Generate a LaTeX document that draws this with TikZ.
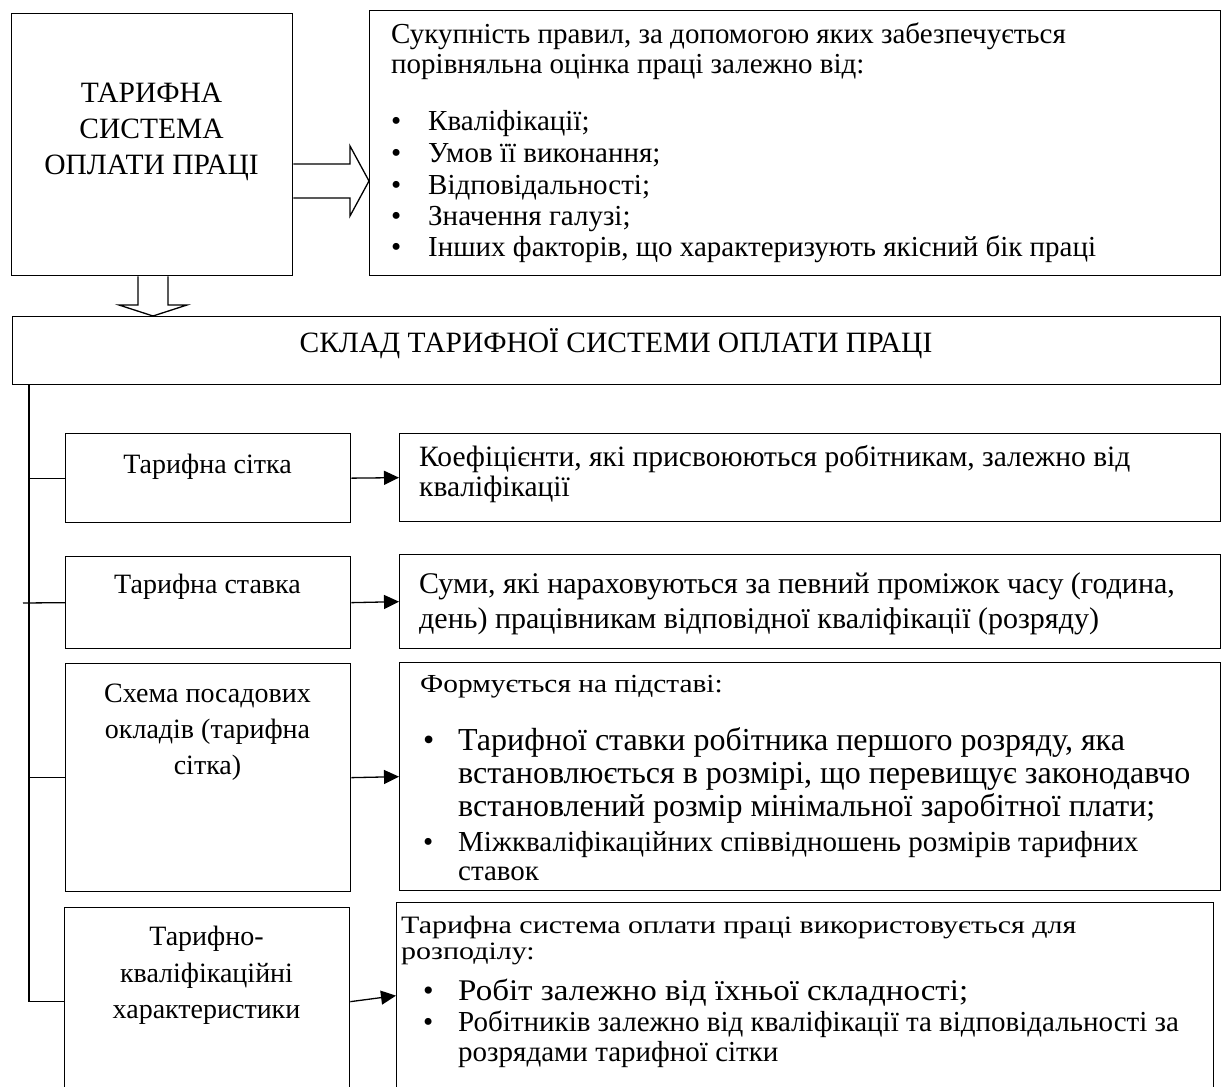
\documentclass[tikz,border=0pt]{standalone}
\usepackage{fontspec}
\usepackage{graphicx}
\setmainfont{Liberation Serif}
\usetikzlibrary{arrows.meta}
\newcommand\fsz[1]{\fontsize{#1}{#1}\selectfont}
\newcommand\xs[2]{\scalebox{#1}[1]{#2}}
\begin{document}
\begin{tikzpicture}[x=1pt,y=-1pt,
  box/.style={draw,line width=1.3pt,inner sep=0,anchor=north west},
  txt/.style={inner sep=0,anchor=base west},
  ctxt/.style={inner sep=0,anchor=base},
  hollow/.style={draw,line width=1.3pt,line join=miter},
  conn/.style={line width=1.3pt},
  arr/.style={line width=1.3pt,-{Triangle[length=15pt,width=14pt]}}]
\useasboundingbox (0,0) rectangle (1222,1086);
\clip (0,0) rectangle (1222,1086);
% boxes
\node[box,minimum width=281pt,minimum height=262pt] (b1) at (11,13) {};
\node[box,minimum width=851pt,minimum height=265pt] (b2) at (369,10) {};
\node[box,minimum width=1208pt,minimum height=68pt] (b3) at (12,316) {};
\node[box,minimum width=285pt,minimum height=89pt] (L1) at (65,433) {};
\node[box,minimum width=285pt,minimum height=92pt] (L2) at (65,556) {};
\node[box,minimum width=285pt,minimum height=228pt] (L3) at (65,663) {};
\node[box,minimum width=285pt,minimum height=188pt] (L4) at (64,907) {};
\node[box,minimum width=821pt,minimum height=88pt] (R1) at (399,433) {};
\node[box,minimum width=821pt,minimum height=94pt] (R2) at (399,554) {};
\node[box,minimum width=821pt,minimum height=228pt] (R3) at (399,662) {};
\node[box,minimum width=817pt,minimum height=193pt] (R4) at (396,902) {};
% hollow arrows
\draw[hollow] (b1.east |- 0,164) -- (350,164) -- (350,146) -- (b2.west |- 0,181)
  -- (350,216) -- (350,198) -- (b1.east |- 0,198);
\draw[hollow] (b1.south -| 138,0) -- (138,305) -- (119,305) -- (b3.north -| 153,0)
  -- (187,305) -- (168,305) -- (b1.south -| 168,0);
% trunk and branches
\coordinate (t0) at (29,384);
\coordinate (t2) at (23,603);
\draw[conn] (t0) |- (L4.west);
\draw[conn] (t0 |- L1.west) -- (L1.west);
\draw[conn] (t2) -- (L2.west);
\draw[conn] (t0 |- L3.west) -- (L3.west);
\draw[arr] (L1.east) -- (R1.west);
\draw[arr] (L2.east) -- (R2.west);
\draw[arr] (L3.east) -- (R3.west);
\draw[arr] (L4.east) -- ([yshift=3.5pt]R4.west);
% texts
\node[ctxt,font=\fsz{29.5}] (t1a) at (151.5,103) {ТАРИФНА};
\node[ctxt,font=\fsz{29.5}] (t1b) at (151.5,139) {СИСТЕМА};
\node[ctxt,font=\fsz{29.5}] (t1c) at (151.5,175) {ОПЛАТИ ПРАЦІ};
\node[ctxt,font=\fsz{29.5}] (t3) at (616,352) {СКЛАД ТАРИФНОЇ СИСТЕМИ ОПЛАТИ ПРАЦІ};
\begin{scope}[every node/.style={txt,font=\fsz{29}}]
\node (t2a) at (391,44) {Сукупність правил, за допомогою яких забезпечується};
\node (t2b) at (391,74) {порівняльна оцінка праці залежно від:};
\foreach \yy/\tt [count=\i] in {131/Кваліфікації;,163/Умов її виконання;,194/Відповідальності;,225/Значення галузі;,256/{Інших факторів, що характеризують якісний бік праці}}{
  \node (bb\i) at (391,\yy) {•};
  \node (bt\i) at (428,\yy) {\tt};
}
\end{scope}
\node[ctxt,font=\fsz{28}] (l1) at (207.5,473) {Тарифна сітка};
\node[ctxt,font=\fsz{28}] (l2) at (207.5,593) {Тарифна ставка};
\node[ctxt,font=\fsz{28}] (l3a) at (207.5,702) {Схема посадових};
\node[ctxt,font=\fsz{28}] (l3b) at (207.5,738) {окладів (тарифна};
\node[ctxt,font=\fsz{28}] (l3c) at (207.5,774) {сітка)};
\node[ctxt,font=\fsz{28}] (l4a) at (206.5,945) {Тарифно-};
\node[ctxt,font=\fsz{28}] (l4b) at (206.5,982) {кваліфікаційні};
\node[ctxt,font=\fsz{28}] (l4c) at (206.5,1018) {характеристики};
\node[txt,font=\fsz{29.5}] (r1a) at (419,466) {Коефіцієнти, які присвоюються робітникам, залежно від};
\node[txt,font=\fsz{29.5}] (r1b) at (419,496) {кваліфікації};
\node[txt,font=\fsz{30}] (r2a) at (419,593) {Суми, які нараховуються за певний проміжок часу (година,};
\node[txt,font=\fsz{30}] (r2b) at (419,628) {день) працівникам відповідної кваліфікації (розряду)};
\node[txt,font=\fsz{26}] (r3h) at (420,692) {\xs{1.13}{Формується на підставі:}};
\node[txt,font=\fsz{32}] (r3d1) at (423,750) {•};
\node[txt,font=\fsz{32}] (r3a) at (458,750) {Тарифної ставки робітника першого розряду, яка};
\node[txt,font=\fsz{32}] (r3b) at (458,783) {встановлюється в розмірі, що перевищує законодавчо};
\node[txt,font=\fsz{32}] (r3c) at (458,816) {встановлений розмір мінімальної заробітної плати;};
\node[txt,font=\fsz{29}] (r3d2) at (423,851) {•};
\node[txt,font=\fsz{29}] (r3d) at (458,851) {Міжкваліфікаційних співвідношень розмірів тарифних};
\node[txt,font=\fsz{29}] (r3e) at (458,880) {ставок};
\node[txt,font=\fsz{25}] (r4h1) at (401,933) {\xs{1.2}{Тарифна система оплати праці використовується для}};
\node[txt,font=\fsz{25}] (r4h2) at (401,959) {\xs{1.2}{розподілу:}};
\node[txt,font=\fsz{30}] (r4d1) at (423,1000) {•};
\node[txt,font=\fsz{30}] (r4a) at (458,1000) {\xs{1.1}{Робіт залежно від їхньої складності;}};
\node[txt,font=\fsz{29}] (r4d2) at (423,1031) {•};
\node[txt,font=\fsz{29}] (r4b) at (458,1031) {Робітників залежно від кваліфікації та відповідальності за};
\node[txt,font=\fsz{29}] (r4c) at (458,1061) {розрядами тарифної сітки};
\end{tikzpicture}
\end{document}
